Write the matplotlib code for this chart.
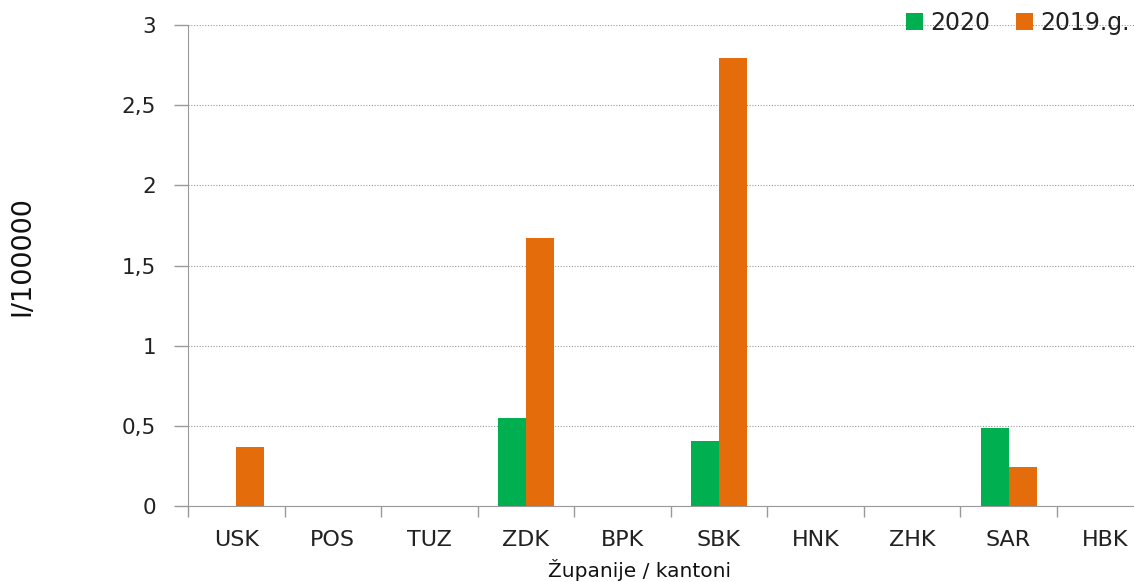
import matplotlib
matplotlib.use("Agg")
import matplotlib.pyplot as plt
import numpy as np

categories = ["USK", "POS", "TUZ", "ZDK", "BPK", "SBK", "HNK", "ZHK", "SAR", "HBK"]
values_2020 = [0, 0, 0, 0.547, 0, 0.405, 0, 0, 0.487, 0]
values_2019 = [0.37, 0, 0, 1.67, 0, 2.795, 0, 0, 0.243, 0]
yticks = [0, 0.5, 1, 1.5, 2, 2.5, 3]
ytick_labels = ["0", "0,5", "1", "1,5", "2", "2,5", "3"]

green = "#00B050"
orange = "#E46C0A"

plt.rcParams['font.family'] = ['DejaVu Sans']

fig = plt.figure(figsize=(11.34, 5.82), dpi=100)
ax = fig.add_axes([188/1134, 1-506/582, 946/1134, (506-25)/582])

x = np.arange(len(categories))
w = 0.29
ax.bar(x - w/2, values_2020, width=w, color=green, label="2020", zorder=3)
ax.bar(x + w/2, values_2019, width=w, color=orange, label="2019.g.", zorder=3)

ax.set_xlim(-0.5, 9.30)
ax.set_ylim(0, 3)
ax.set_yticks(yticks)
ax.set_yticklabels(ytick_labels, fontsize=15.5, color="#222222")
ax.set_xticks(x)
ax.set_xticklabels(categories, fontsize=16, color="#222222")
ax.set_xticks(np.arange(-0.5, 9.5, 1), minor=True)
ax.tick_params(axis='x', which='major', length=0, pad=17)
ax.tick_params(axis='x', which='minor', length=8, color="#999999", width=1)
ax.tick_params(axis='y', length=10, color="#999999", width=1, pad=13)

ax.yaxis.grid(True, linestyle=(0, (1, 1.5)), color="#999999", linewidth=0.8, zorder=0)
for s in ["top", "right"]:
    ax.spines[s].set_visible(False)
for s in ["left", "bottom"]:
    ax.spines[s].set_color("#999999")

fig.text(22/1134, 1-256/582, "I/100000", rotation=90, fontsize=19.5,
         ha="center", va="center", color="#111111")
fig.text(640/1134, 1-577/582, "Županije / kantoni", fontsize=14.5,
         ha="center", va="baseline", color="#111111")

leg = fig.legend(loc="center right", bbox_to_anchor=(1130/1134, 1-23/582), ncol=2,
                 frameon=False, fontsize=17, handlelength=0.72, handleheight=0.72,
                 handletextpad=0.3, columnspacing=1.1, borderaxespad=0, borderpad=0)
for t in leg.get_texts():
    t.set_color("#222222")

fig.savefig("out.png", dpi=100)
